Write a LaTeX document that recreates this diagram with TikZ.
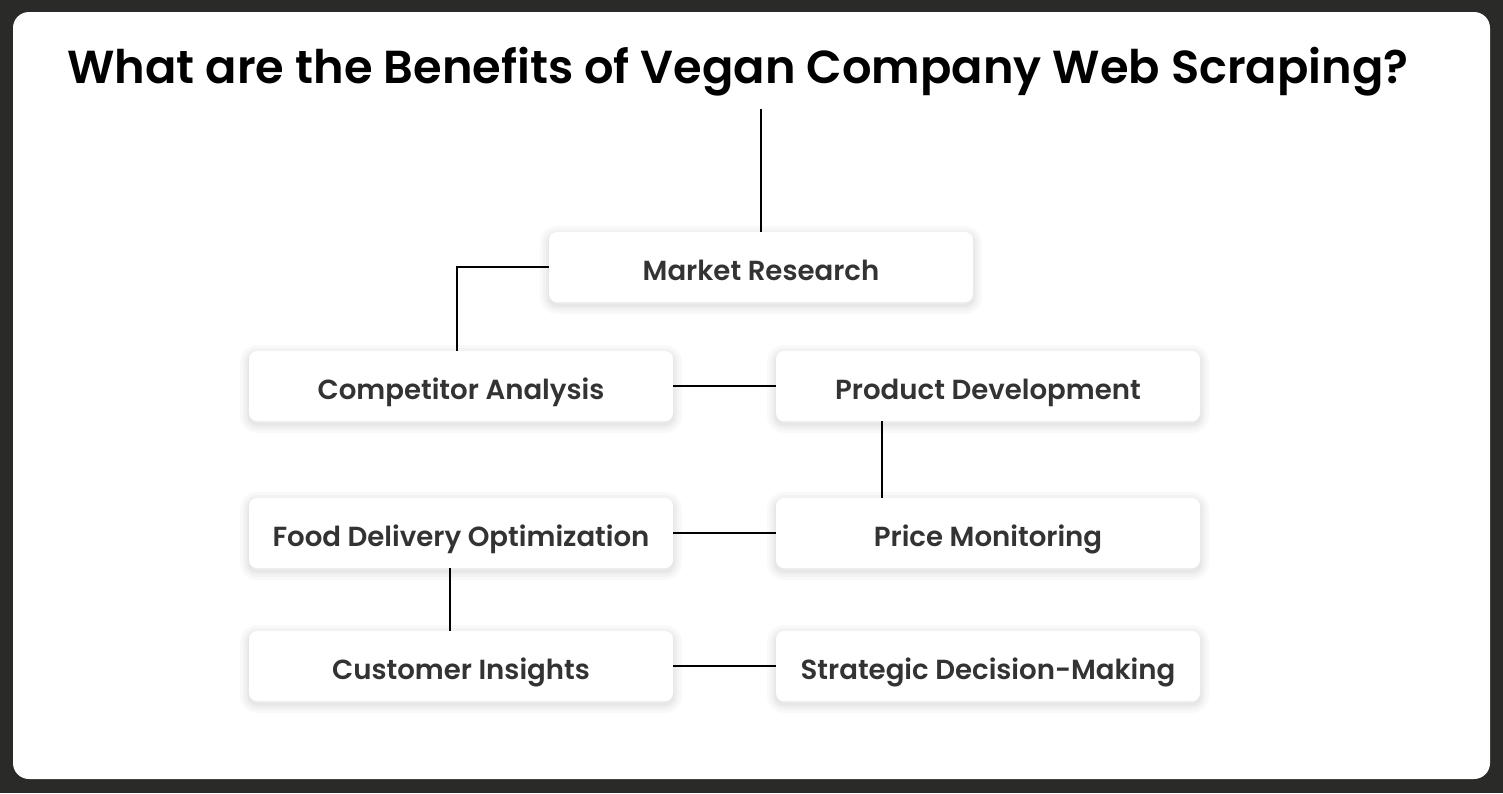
\documentclass[tikz,border=0pt]{standalone}
\usepackage{fontspec}
\setmainfont{Poppins}
\newfontfamily\semibold{Poppins SemiBold}
\usepackage{tikz}
\usetikzlibrary{positioning}
\definecolor{bgdark}{HTML}{2A2A29}
\definecolor{cardtext}{HTML}{333333}

\begin{document}
\begin{tikzpicture}[
  x=0.5pt,y=-0.5pt,
  glow/.style={preaction={draw=black,line width=#1,draw opacity=0.025,
                          transform canvas={yshift=-1.5pt}}},
  card/.style={rectangle,rounded corners=4pt,fill=white,
               minimum width=212pt,minimum height=35pt,
               text height=14pt,text depth=0.8pt,
               font=\semibold\fontsize{13.8}{17}\selectfont,text=cardtext,
               glow=9pt,glow=6pt,glow=3.5pt,glow=1.5pt},
  link/.style={line width=1pt,black}
]
  \useasboundingbox (0,0) rectangle (1503,793);
  \fill[bgdark] (0,0) rectangle (1503,793);
  \fill[white,rounded corners=8pt] (13,12) rectangle (1490,779);

  \node[font=\semibold\fontsize{23.15}{28}\selectfont,inner sep=0pt] (title) at (738,72)
    {What are the Benefits of Vegan Company Web Scraping?};

  \node[card] (mr) at (761,267)  {Market Research};
  \node[card] (ca) at (461,386)  {Competitor Analysis};
  \node[card] (pd) at (988,386)  {Product Development};
  \node[card] (fd) at (461,533)  {Food Delivery Optimization};
  \node[card] (pm) at (988,533)  {Price Monitoring};
  \node[card] (ci) at (461,666)  {Customer Insights};
  \node[card] (sd) at (988,666)  {Strategic Decision-Making};

  \draw[link] ([yshift=-6pt]title.south -| mr.north) -- (mr.north);
  \draw[link] (mr.west) -| ([xshift=-2pt]ca.north);
  \draw[link] (ca.east) -- (pd.west);
  \draw[link] ([xshift=-53pt]pd.south) -- ([xshift=-53pt]pm.north);
  \draw[link] (fd.east) -- (pm.west);
  \draw[link] ([xshift=-5.5pt]fd.south) -- ([xshift=-5.5pt]ci.north);
  \draw[link] (ci.east) -- (sd.west);
\end{tikzpicture}
\end{document}
